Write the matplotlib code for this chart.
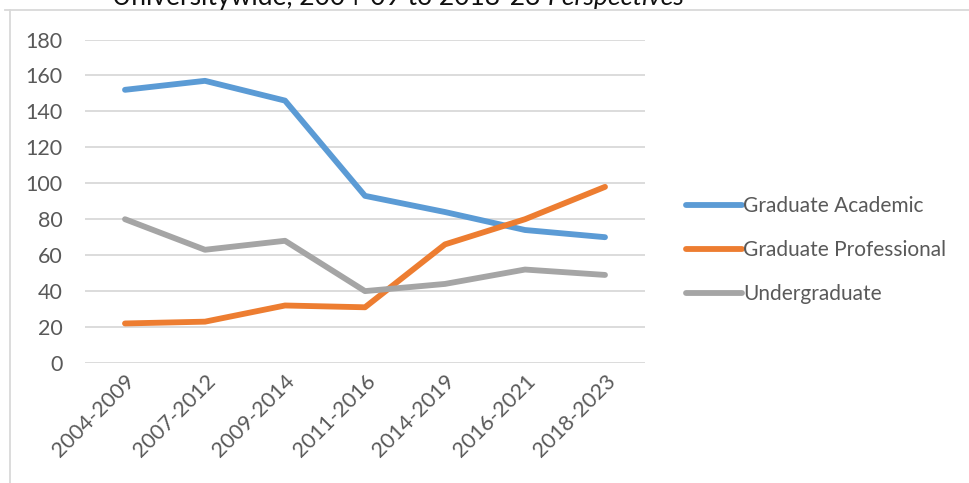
import matplotlib
matplotlib.use("Agg")
import matplotlib.pyplot as plt
from matplotlib.lines import Line2D

plt.rcParams['font.family'] = ['Lato', 'DejaVu Sans']

periods = ["2004-2009", "2007-2012", "2009-2014", "2011-2016",
           "2014-2019", "2016-2021", "2018-2023"]
grad_academic = [152, 157, 146, 93, 84, 74, 70]
grad_professional = [22, 23, 32, 31, 66, 80, 98]
undergraduate = [80, 63, 68, 40, 44, 52, 49]

series = [
    ("Graduate Academic", grad_academic, "#5b9bd5"),
    ("Graduate Professional", grad_professional, "#ed7d31"),
    ("Undergraduate", undergraduate, "#a5a5a5"),
]

W, H = 969, 483
fig = plt.figure(figsize=(W / 100, H / 100), dpi=100)

# plot area in pixel coords
left, right, top, bottom = 85, 645, 39.5, 363
ax = fig.add_axes([left / W, 1 - bottom / H, (right - left) / W, (bottom - top) / H])

x = list(range(len(periods)))
for name, vals, col in series:
    ax.plot(x, vals, color=col, lw=4.2, solid_capstyle='round',
            solid_joinstyle='round', label=name, zorder=3)

ax.set_xlim(-0.5, len(periods) - 0.5)
ax.set_ylim(0, 180)
ax.set_yticks(range(0, 181, 20))
ax.grid(axis='y', color='#d9d9d9', lw=1.3, zorder=0)
ax.set_xticks(x)
ax.set_xticklabels(periods, rotation=45, ha='right', rotation_mode='anchor')
for s in ax.spines.values():
    s.set_visible(False)
ax.tick_params(length=0, labelsize=15.5, colors='#595959', pad=16)
ax.tick_params(axis='x', pad=6)

# legend
handles = [Line2D([], [], color=c, lw=4.2, solid_capstyle='round') for _, _, c in series]
fig.legend(handles, [n for n, _, _ in series], loc='center left',
           bbox_to_anchor=(667 / W, 1 - 250 / H), frameon=False,
           fontsize=15, labelcolor='#595959', handlelength=2.7,
           handletextpad=0.05, labelspacing=1.15)

# chart frame
fig.add_artist(Line2D([10 / W, 10 / W], [0, 1 - 10 / H], color='#d9d9d9', lw=1.3))
fig.add_artist(Line2D([5 / W, 1], [1 - 10 / H, 1 - 10 / H], color='#d9d9d9', lw=1.3))

# clipped title at top
t1 = fig.text(112 / W, 1 - 5 / H, "Universitywide, 2004-09 to 2018-23 ", fontsize=19,
              color='#111111', va='baseline', ha='left')
fig.canvas.draw()
bb = t1.get_window_extent()
fig.text(bb.x1 / W, 1 - 5 / H, "Perspectives", fontsize=19, style='italic',
         color='#111111', va='baseline', ha='left')

fig.savefig("out.png", dpi=100)
